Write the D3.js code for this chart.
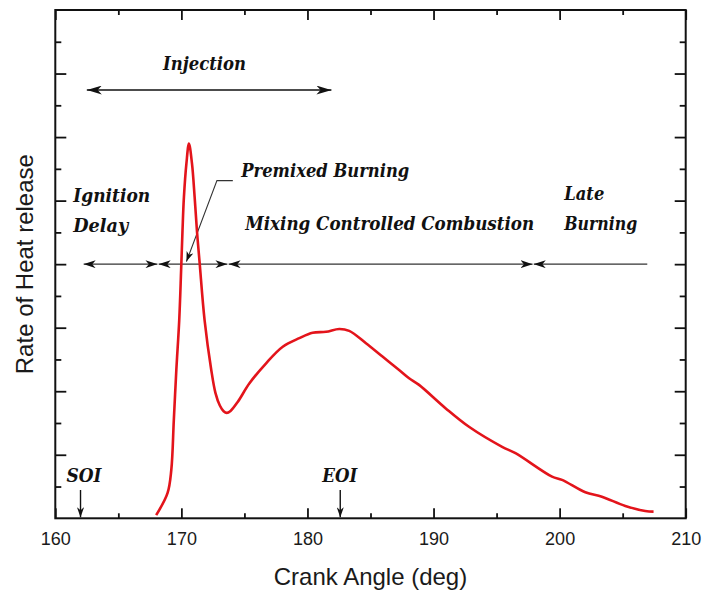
<!DOCTYPE html>
<html lang="en">
<head>
  <meta charset="UTF-8">
  <title>Rate of Heat Release vs Crank Angle</title>
  <script src="https://d3js.org/d3.v7.min.js"></script>
  <style>
    body { margin: 0; background: #fff; }
    .tick text { font: 18px "Liberation Sans", Arial, sans-serif; fill: #1a1a1a; }
    .title { font: 24px "Liberation Sans", Arial, sans-serif; fill: #1a1a1a; }
    .note { font: italic bold 18px "DejaVu Serif", serif; fill: #111; }
  </style>
</head>
<body>
  <svg id="chart" width="704" height="592"></svg>

  <script>
    // traced heat release curve (crank angle in deg, arbitrary units)
    const crankAngle = [168.0, 168.9, 169.2, 169.4, 169.6, 169.83, 169.98, 170.09, 170.2, 170.4, 170.6,
      170.84, 171.05, 171.23, 171.45, 171.84, 172.37, 172.7, 173.05, 173.35, 173.6, 173.9, 174.48, 175.4,
      176.72, 178.04, 179.36, 180.41, 181.47, 182.52, 183.31, 184.64, 185.95, 187.27, 188.06, 188.85,
      190.97, 192.81, 195.44, 196.5, 199.4, 200.19, 202.04, 203.35, 205.21, 206.79, 207.45];
    const heatRelease = [0.1, 0.79, 1.52, 3.09, 4.67, 6.24, 7.82, 9.07, 10.1, 11.17, 11.8,
      11.17, 10.12, 9.07, 8.03, 6.24, 4.67, 3.95, 3.55, 3.37, 3.32, 3.38, 3.67, 4.25,
      4.88, 5.4, 5.67, 5.84, 5.87, 5.96, 5.9, 5.51, 5.09, 4.67, 4.41, 4.2,
      3.46, 2.88, 2.25, 2.05, 1.31, 1.21, 0.82, 0.68, 0.39, 0.23, 0.21];

    const xMajor = [160, 170, 180, 190, 200, 210];
    const xMinor = [165, 175, 185, 195, 205];
    const yMajor = [2, 4, 6, 8, 10, 12, 14];
    const yMinor = [1, 3, 5, 7, 9, 11, 13, 15];

    // combustion phases along the arrow line
    const phaseBounds = [162.2, 168.15, 173.7, 197.9, 207.0];
    const phaseLevel = 8;
    const injection = [162.5, 181.9];
    const injectionLevel = 13.48;
    const soi = 162.0, eoi = 182.6;

    const labels = [
      { text: "Injection", x: 171.84, y: 14.11, anchor: "middle", w: 83 },
      { text: "Ignition", x: 161.42, y: 9.97, anchor: "start", w: 77 },
      { text: "Delay", x: 161.42, y: 9.02, anchor: "start", w: 55 },
      { text: "Premixed Burning", x: 174.75, y: 10.75, anchor: "start", w: 168 },
      { text: "Mixing Controlled Combustion", x: 175.06, y: 9.07, anchor: "start", w: 289 },
      { text: "Late", x: 200.37, y: 10.02, anchor: "start", w: 40 },
      { text: "Burning", x: 200.37, y: 9.07, anchor: "start", w: 73 },
      { text: "SOI", x: 162.27, y: 1.15, anchor: "middle", w: 35 },
      { text: "EOI", x: 182.56, y: 1.15, anchor: "middle", w: 35 }
    ];

    const margin = { top: 10, right: 18.3, bottom: 73.7, left: 55.3 };
    const width = 704, height = 592;

    const x = d3.scaleLinear().domain([160, 210]).range([margin.left, width - margin.right]);
    const y = d3.scaleLinear().domain([0, 16]).range([height - margin.bottom, margin.top]);

    const svg = d3.select("#chart");
    const defs = svg.append("defs");

    function addHead(id, len, half) {
      defs.append("marker")
        .attr("id", id)
        .attr("viewBox", `0 ${-half} ${len} ${half * 2}`)
        .attr("refX", len).attr("refY", 0)
        .attr("markerUnits", "userSpaceOnUse")
        .attr("markerWidth", len).attr("markerHeight", half * 2)
        .attr("orient", "auto-start-reverse")
        .append("path")
        .attr("d", `M0,${-half}L${len},0L0,${half}L${len * 0.28},0Z`)
        .attr("fill", "#111");
    }
    addHead("headBig", 15, 4.5);
    addHead("head", 12, 4);
    addHead("headSmall", 10, 3.5);

    // ticks, all pointing inward
    function tickGroup(axis, transform, values, size, labelled) {
      const g = svg.append("g").attr("transform", transform)
        .call(axis.tickValues(values).tickSize(-size).tickPadding(14)
          .tickFormat(labelled ? d3.format("d") : () => ""));
      g.select(".domain").remove();
      g.selectAll("line").attr("stroke", "#111").attr("stroke-width", 1.8);
      return g;
    }
    const b = height - margin.bottom, r = width - margin.right;
    tickGroup(d3.axisBottom(x), `translate(0,${b})`, xMajor, 10, true);
    tickGroup(d3.axisBottom(x), `translate(0,${b})`, xMinor, 5, false);
    tickGroup(d3.axisTop(x), `translate(0,${margin.top})`, xMajor, 10, false);
    tickGroup(d3.axisTop(x), `translate(0,${margin.top})`, xMinor, 5, false);
    tickGroup(d3.axisLeft(y), `translate(${margin.left},0)`, yMajor, 11, false);
    tickGroup(d3.axisLeft(y), `translate(${margin.left},0)`, yMinor, 6, false);
    tickGroup(d3.axisRight(y), `translate(${r},0)`, yMajor, 11, false);
    tickGroup(d3.axisRight(y), `translate(${r},0)`, yMinor, 6, false);

    svg.append("rect")
      .attr("x", margin.left).attr("y", margin.top)
      .attr("width", r - margin.left).attr("height", b - margin.top)
      .attr("fill", "none").attr("stroke", "#111").attr("stroke-width", 2);

    // axis titles
    svg.append("text").attr("class", "title")
      .attr("x", (margin.left + r) / 2).attr("y", 585)
      .attr("text-anchor", "middle").text("Crank Angle (deg)");
    svg.append("text").attr("class", "title")
      .attr("transform", `translate(33,${(margin.top + b) / 2}) rotate(-90)`)
      .attr("text-anchor", "middle").text("Rate of Heat release");

    // phase arrows
    const arrows = svg.append("g").attr("stroke", "#333").attr("stroke-width", 1.1).attr("fill", "none");
    d3.pairs(phaseBounds).forEach(([a, c], i) => {
      const last = i === phaseBounds.length - 2;
      arrows.append("line")
        .attr("x1", x(a) + 0.6).attr("x2", x(c) - 0.6)
        .attr("y1", y(phaseLevel)).attr("y2", y(phaseLevel))
        .attr("marker-start", "url(#head)")
        .attr("marker-end", last ? null : "url(#head)");
    });

    arrows.append("line")
      .attr("x1", x(injection[0])).attr("x2", x(injection[1]))
      .attr("y1", y(injectionLevel)).attr("y2", y(injectionLevel))
      .attr("stroke", "#111").attr("stroke-width", 1.6)
      .attr("marker-start", "url(#headBig)").attr("marker-end", "url(#headBig)");

    // leader for premixed burning
    arrows.append("polyline")
      .attr("points", [[174.08, 10.63], [172.82, 10.63], [170.4, 8.08]].map(p => [x(p[0]), y(p[1])].join(",")).join(" "))
      .attr("marker-end", "url(#headSmall)");

    // SOI / EOI markers
    [soi, eoi].forEach(v => {
      arrows.append("line")
        .attr("x1", x(v)).attr("x2", x(v))
        .attr("y1", y(0.89)).attr("y2", y(0.03))
        .attr("stroke", "#111").attr("stroke-width", 1.4)
        .attr("marker-end", "url(#headSmall)");
    });

    // heat release curve
    svg.append("path")
      .datum(d3.zip(crankAngle, heatRelease))
      .attr("fill", "none")
      .attr("stroke", "#e3141b")
      .attr("stroke-width", 2.6)
      .attr("stroke-linejoin", "round")
      .attr("d", d3.line().x(d => x(d[0])).y(d => y(d[1])).curve(d3.curveCatmullRom.alpha(0.5)));

    // annotation text, squeezed to the traced widths
    svg.append("g").selectAll("text")
      .data(labels)
      .join("text")
      .attr("class", "note")
      .attr("x", d => x(d.x))
      .attr("y", d => y(d.y))
      .attr("text-anchor", d => d.anchor)
      .attr("textLength", d => d.w)
      .attr("lengthAdjust", "spacingAndGlyphs")
      .text(d => d.text);
  </script>
</body>
</html>
